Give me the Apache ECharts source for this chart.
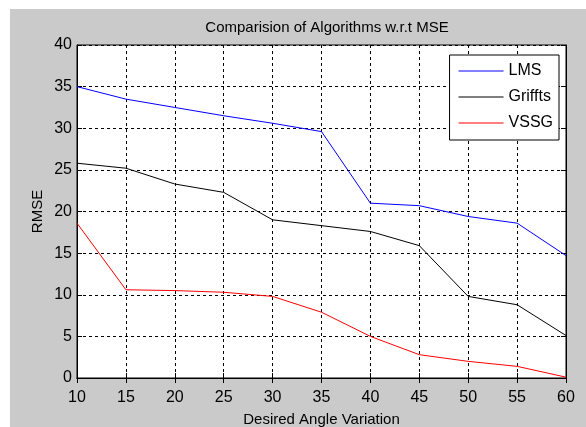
<!DOCTYPE html>
<html>
<head>
<meta charset="utf-8">
<script src="https://cdn.jsdelivr.net/npm/echarts@6/dist/echarts.min.js"></script>
<style>
  html, body { margin: 0; padding: 0; background: #fff; }
  #chart { width: 586px; height: 427px; }
</style>
</head>
<body>
<div id="chart"></div>
<script>
// values
const angles = [10, 15, 20, 25, 30, 35, 40, 45, 50, 55, 60]
const lms = [35.0, 33.5, 32.5, 31.5, 30.6, 29.6, 21.0, 20.7, 19.4, 18.6, 14.7]
const griffts = [25.8, 25.2, 23.3, 22.3, 19.0, 18.3, 17.6, 15.9, 9.8, 8.8, 5.1]
const vssg = [18.6, 10.6, 10.5, 10.3, 9.8, 7.9, 5.0, 2.8, 2.0, 1.4, 0.1]

const font = '"Liberation Sans", Arial, sans-serif'

const pairs = ys => angles.map((a, i) => [a, ys[i]])

const el = document.getElementById('chart')
const chart = echarts.init(el, null, { renderer: 'canvas' })

// inside ticks on all four sides, like a matlab box
const tickStyle = { show: true, inside: true, length: 5, lineStyle: { color: '#000', width: 1 } }
const gridDash = { show: true, lineStyle: { color: '#000', width: 1, type: [3, 3] } }

chart.setOption({
  backgroundColor: '#cacaca',
  animation: false,
  textStyle: { fontFamily: font, color: '#000' },
  graphic: [
    { type: 'rect', shape: { x: 0, y: 0, width: 586, height: 9 }, style: { fill: '#fff' }, silent: true },
    { type: 'rect', shape: { x: 0, y: 0, width: 10, height: 427 }, style: { fill: '#fff' }, silent: true }
  ],
  title: {
    text: 'Comparision of Algorithms w.r.t MSE',
    left: 322,
    textAlign: 'center',
    top: 15,
    textStyle: { fontFamily: font, fontSize: 15, fontWeight: 'normal', color: '#000' }
  },
  grid: {
    left: 77, right: 20, top: 45, bottom: 49,
    outerBoundsMode: 'none',
    show: true, backgroundColor: '#fff', borderColor: '#000', borderWidth: 1
  },
  legend: {
    orient: 'vertical',
    right: 27,
    top: 55,
    backgroundColor: '#fff',
    borderColor: '#000',
    borderWidth: 1,
    borderRadius: 0,
    padding: [8, 6, 9, 9],
    icon: 'rect',
    itemWidth: 45,
    itemHeight: 1,
    itemGap: 10,
    textStyle: { fontFamily: font, fontSize: 16, color: '#000' },
    data: ['LMS', 'Griffts', 'VSSG']
  },
  xAxis: [
    {
      type: 'value', min: 10, max: 60, interval: 5, position: 'bottom',
      name: 'Desired Angle Variation', nameLocation: 'middle', nameGap: 34,
      nameMoveOverlap: false,
      nameTextStyle: { fontFamily: font, fontSize: 15, color: '#000' },
      axisLine: { lineStyle: { color: '#000' } },
      axisTick: tickStyle,
      axisLabel: { fontFamily: font, fontSize: 16, color: '#000', margin: 12 },
      splitLine: gridDash
    },
    {
      type: 'value', min: 10, max: 60, interval: 5, position: 'top',
      axisLine: { lineStyle: { color: '#000' } },
      axisTick: tickStyle, axisLabel: { show: false }, splitLine: { show: false }
    }
  ],
  yAxis: [
    {
      type: 'value', min: 0, max: 40, interval: 5, position: 'left',
      name: 'RMSE', nameLocation: 'middle', nameGap: 32,
      nameMoveOverlap: false,
      nameTextStyle: { fontFamily: font, fontSize: 15, color: '#000' },
      axisLine: { show: true, lineStyle: { color: '#000' } },
      axisTick: tickStyle,
      axisLabel: { fontFamily: font, fontSize: 16, color: '#000', margin: 5 },
      splitLine: gridDash
    },
    {
      type: 'value', min: 0, max: 40, interval: 5, position: 'right',
      axisLine: { show: true, lineStyle: { color: '#000' } },
      axisTick: tickStyle, axisLabel: { show: false }, splitLine: { show: false }
    }
  ],
  series: [
    { name: 'LMS', type: 'line', data: pairs(lms), symbol: 'none', color: '#0000ff', lineStyle: { width: 1 } },
    { name: 'Griffts', type: 'line', data: pairs(griffts), symbol: 'none', color: '#000000', lineStyle: { width: 1 } },
    { name: 'VSSG', type: 'line', data: pairs(vssg), symbol: 'none', color: '#ff0000', lineStyle: { width: 1 } }
  ]
})
</script>
</body>
</html>
